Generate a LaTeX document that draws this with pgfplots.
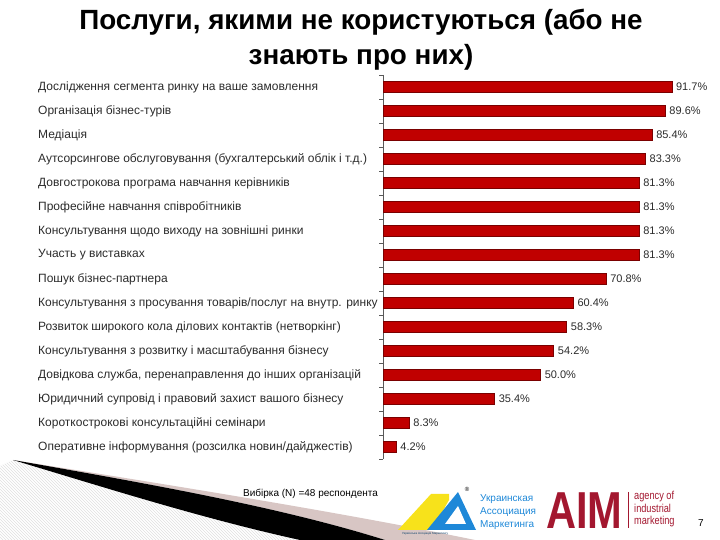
\documentclass[border=0pt]{standalone}
\usepackage{pgfplots}
\pgfplotsset{compat=1.18}
\usepackage{fontspec}
\setmainfont{Liberation Sans}
\usepackage{graphicx}
\usetikzlibrary{patterns}
\definecolor{barred}{HTML}{C00000}
\definecolor{bardark}{HTML}{7A0000}
\definecolor{labgray}{HTML}{2B2B2B}
\definecolor{uamblue}{HTML}{1E88D8}
\definecolor{uamyellow}{HTML}{F7E21B}
\definecolor{aimred}{HTML}{A3172F}
\definecolor{pinkish}{HTML}{D8C6C4}
\begin{document}
\begin{tikzpicture}
\begin{scope}[x=1pt,y=1pt]
\useasboundingbox (0,0) rectangle (720,540);
% decoration bottom-left
\fill[pattern=north west lines, pattern color=gray!25] (0,540-466) -- (13,540-460) .. controls (100,540-486) and (200,540-518) .. (300,0) -- (0,0) -- cycle;
\fill[pinkish] (13,540-460) .. controls (150,540-482) and (330,540-510) .. (475,0) -- (385,0) .. controls (280,540-507) and (150,540-484) .. cycle;
\fill[black] (13,540-460) .. controls (150,540-484) and (280,540-507) .. (385,0) -- (300,0) .. controls (200,540-518) and (100,540-486) .. cycle;
% title
\node[anchor=base, inner sep=0pt, font=\fontsize{27.8}{31}\selectfont\bfseries] at (361,540-30) {Послуги, якими не користуються (або не};
\node[anchor=base, inner sep=0pt, font=\fontsize{27.8}{31}\selectfont\bfseries] at (361,540-65) {знають про них)};
% footer
\node[anchor=west, inner sep=0pt, font=\fontsize{10}{12}\selectfont] at (243,540-494) {Вибірка (N) =48 респондента};
% UAM logo
\fill[uamyellow] (398,540-530) -- (431,540-494) -- (449,540-494) -- (449,540-500) -- (432,540-530) -- cycle;
\fill[uamblue] (427,540-530) -- (458,540-492) -- (476,540-530) -- cycle;
\fill[white] (445,540-524) -- (458,540-506) -- (466,540-524) -- cycle;
\node[font=\fontsize{6}{6}\selectfont] at (467,540-489) {®};
\node[anchor=west, inner sep=0pt, font=\fontsize{3}{3}\selectfont, text=uamblue!50!black] at (402,540-534) {Українська Асоціація Маркетингу};
\node[anchor=north west, inner sep=0pt, align=left, font=\fontsize{10}{13}\selectfont, text=uamblue] at (480,540-494) {Украинская\\Ассоциация\\Маркетинга};
% AIM logo
\node[anchor=west, inner sep=0pt, font=\fontsize{52}{52}\selectfont\bfseries, text=aimred] at (546,540-511) {\scalebox{0.8}[1]{AIM}};
\draw[aimred, line width=0.6pt] (628,540-492) -- (628,540-528);
\node[anchor=north west, inner sep=0pt, align=left, font=\fontsize{11.5}{12.5}\selectfont, text=aimred] at (634,540-491) {\scalebox{0.8}[1]{agency of}\\\scalebox{0.8}[1]{industrial}\\\scalebox{0.8}[1]{marketing}};
\node[font=\fontsize{10}{12}\selectfont] at (701,540-523) {7};
\end{scope}
\begin{axis}[
  at={(383pt,465pt)}, anchor=north west,
  scale only axis, width=315pt, height=384pt,
  xmin=0, xmax=100, ymin=-0.5, ymax=15.5, y dir=reverse,
  hide x axis,
  axis y line*=left,
  axis line style={gray!70!black, line width=0.6pt},
  ytick={0,...,15},
  major tick length=0pt,
  minor ytick={-0.5,0.5,...,15.5},
  minor tick length=4pt,
  tick align=outside,
  tick style={gray!70!black, line width=0.6pt},
  yticklabels={
    Дослідження сегмента ринку на ваше замовлення,
    Організація бізнес-турів,
    Медіація,
    Аутсорсингове обслуговування (бухгалтерський облік і т.д.),
    Довгострокова програма навчання керівників,
    Професійне навчання співробітників,
    Консультування щодо виходу на зовнішні ринки,
    Участь у виставках,
    Пошук бізнес-партнера,
    Консультування з просування товарів/послуг на внутр. ринку,
    Розвиток широкого кола ділових контактів (нетворкінг),
    Консультування з розвитку і масштабування бізнесу,
    {Довідкова служба, перенаправлення до інших організацій},
    Юридичний супровід і правовий захист вашого бізнесу,
    Короткострокові консультаційні семінари,
    Оперативне інформування (розсилка новин/дайджестів)},
  yticklabel style={anchor=west, inner sep=0pt, xshift=-345pt, font=\fontsize{12}{13}\selectfont, text=labgray},
  /pgf/number format/assume math mode=true,
  clip=false,
  point meta=x,
  nodes near coords={\pgfmathprintnumber[fixed,precision=1,fixed zerofill]{\pgfplotspointmeta}\%},
  nodes near coords style={anchor=west, inner sep=0pt, xshift=4pt, font=\fontsize{11}{12}\selectfont, text=labgray},
]
\addplot[xbar, bar width=11pt, fill=barred, draw=bardark, line width=0.5pt] coordinates {
(91.7,0) (89.6,1) (85.4,2) (83.3,3) (81.3,4) (81.3,5) (81.3,6) (81.3,7)
(70.8,8) (60.4,9) (58.3,10) (54.2,11) (50.0,12) (35.4,13) (8.3,14) (4.2,15)};
\end{axis}
\end{tikzpicture}
\end{document}
